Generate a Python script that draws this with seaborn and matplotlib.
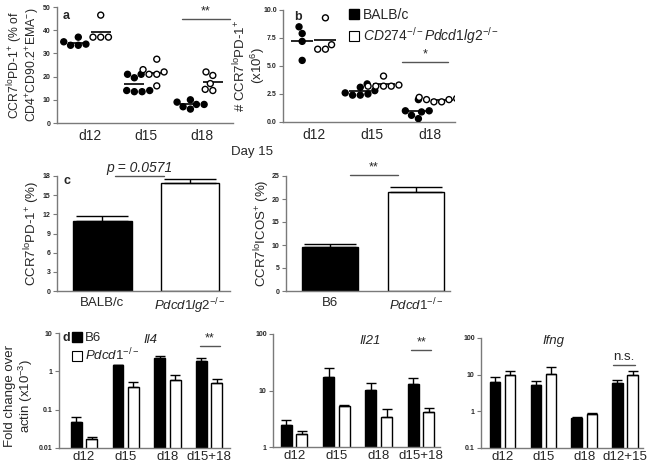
import numpy as np
import pandas as pd
import matplotlib
matplotlib.use("Agg")
import matplotlib.pyplot as plt
import seaborn as sns
from matplotlib.lines import Line2D
from matplotlib.ticker import NullLocator

# ---- panels a / b : individual mice per day ----
days = ["d12", "d15", "d18"]
strains = ["BALB/c", "KO"]
pct_wt = [[37, 35, 34, 33.5, 33.5],
          [21, 21, 19.5, 14, 13.5, 13.5, 14],
          [10, 9, 8, 8, 7, 6]]
pct_ko = [[46.5, 37, 37, 37],
          [27.5, 23, 21, 21, 22, 16],
          [22, 20.5, 17, 14.5, 14]]
num_wt = [[7.9, 8.5, 7.2, 5.5],
          [3.4, 3.1, 2.8, 2.6, 2.4, 2.4, 2.5],
          [2.0, 1.0, 0.9, 1.0, 0.6, 0.3]]
num_ko = [[9.3, 6.9, 6.5, 6.5],
          [4.1, 3.3, 3.2, 3.2, 3.2, 3.2],
          [2.2, 2.1, 2.0, 1.8, 1.8, 2.0]]

# ---- panel c : day 15 bars ----
c_groups = ["BALB/c", r"$\mathit{Pdcd1lg2}^{\mathit{-/-}}$"]
c_mean = [11.0, 16.85]
c_err = [0.8, 0.65]
c2_groups = ["B6", r"$\mathit{Pdcd1}^{\mathit{-/-}}$"]
c2_mean = [9.6, 21.6]
c2_err = [0.65, 1.1]

# ---- panel d : qPCR, fold change over actin ----
genes = ["B6", "Pdcd1"]
il4_days = ["d12", "d15", "d18", "d15+18"]
il4_b6 = [0.048, 1.42, 2.21, 1.9]
il4_b6_err = [0.017, 0.06, 0.34, 0.3]
il4_ko = [0.017, 0.38, 0.59, 0.5]
il4_ko_err = [0.0025, 0.14, 0.21, 0.13]
il21_days = ["d12", "d15", "d18", "d15+18"]
il21_b6 = [2.5, 17.6, 10.2, 13.1]
il21_b6_err = [0.45, 7.3, 3.6, 3.4]
il21_ko = [1.73, 5.3, 3.4, 4.2]
il21_ko_err = [0.17, 0.2, 1.3, 0.8]
ifng_days = ["d12", "d15", "d18", "d12+15"]
ifng_b6 = [6.3, 5.1, 0.66, 5.8]
ifng_b6_err = [2.2, 1.8, 0.04, 1.2]
ifng_ko = [10.0, 10.4, 0.85, 10.0]
ifng_ko_err = [2.8, 5.5, 0.05, 2.3]

sns.set_style("ticks")
plt.rcParams["font.family"] = ["Liberation Sans", "DejaVu Sans"]
plt.rcParams["mathtext.fontset"] = "custom"
plt.rcParams["mathtext.rm"] = "Liberation Sans"
plt.rcParams["mathtext.it"] = "Liberation Sans:italic"
plt.rcParams["mathtext.bf"] = "Liberation Sans:bold"

W, H = 651, 466
GRAY = "#7a7a7a"
LINE = "#555555"


def px_box(l, t, r, b):
    return [l / W, 1 - b / H, (r - l) / W, (b - t) / H]


def ftext(x, y, s, **kw):
    fig.text(x / W, 1 - y / H, s, **kw)


def long_df(wt, ko):
    rows = []
    for day, w, k in zip(days, wt, ko):
        rows += [(day, strains[0], v) for v in w]
        rows += [(day, strains[1], v) for v in k]
    return pd.DataFrame(rows, columns=["day", "strain", "value"])


def style(ax, yticks, ylabels, xfs=10, xpad=4):
    sns.despine(ax=ax)
    for s in ["left", "bottom"]:
        ax.spines[s].set_color(GRAY)
        ax.spines[s].set_linewidth(1)
    ax.set_yticks(yticks, labels=ylabels, fontsize=5, fontweight="bold")
    ax.yaxis.set_minor_locator(NullLocator())
    ax.tick_params(axis="y", length=3, width=0.8, color=GRAY, pad=1.5)
    ax.tick_params(axis="x", length=0, labelsize=xfs, pad=xpad)
    ax.set_xlabel("")


def bracket(ax, x0, x1, y, text, fs=9, style_="normal"):
    ax.plot([x0, x1], [y, y], color=LINE, lw=1, clip_on=False)
    ax.annotate(text, xy=((x0 + x1) / 2, y), xytext=(0, 1),
                textcoords="offset points", ha="center", va="bottom",
                fontsize=fs, style=style_, annotation_clip=False)


def dot_panel(ax, wt, ko, ms_line):
    df = long_df(wt, ko)
    sns.swarmplot(data=df, x="day", y="value", hue="strain", order=days,
                  hue_order=strains, dodge=True, palette=["black", "white"],
                  edgecolor="black", linewidth=1, size=4.3, legend=False,
                  warn_thresh=1, ax=ax)
    sns.pointplot(data=df, x="day", y="value", hue="strain", order=days,
                  hue_order=strains, dodge=0.4, errorbar=None, markers="_",
                  linestyle="none", palette=["black", "black"],
                  markersize=ms_line, markeredgewidth=1.2, legend=False, ax=ax)


def err_on_bars(ax, errs, cap):
    for patch, e in zip(ax.patches, errs):
        x = patch.get_x() + patch.get_width() / 2
        h = patch.get_height()
        ax.errorbar(x, h, yerr=[[0], [e]], fmt="none", ecolor="black",
                    elinewidth=1, capsize=cap, capthick=1, zorder=1)


def qpcr_panel(ax, cats, b6, b6_err, ko, ko_err):
    df = pd.DataFrame({"day": cats * 2,
                       "strain": [genes[0]] * len(cats) + [genes[1]] * len(cats),
                       "value": b6 + ko})
    sns.barplot(data=df, x="day", y="value", hue="strain", order=cats,
                hue_order=genes, palette=["black", "white"], edgecolor="black",
                linewidth=1, width=0.74, gap=0.3, legend=False, ax=ax)
    ax.set_yscale("log")
    err_on_bars(ax, b6_err + ko_err, 3.5)


fig = plt.figure(figsize=(W / 100, H / 100), dpi=100)

# ---------------- a ----------------
ax_a = fig.add_axes(px_box(57, 7, 233, 123))
dot_panel(ax_a, pct_wt, pct_ko, 14)
ax_a.set_ylim(0, 50)
ax_a.set_xlim(-0.58, 2.56)
style(ax_a, [0, 10, 20, 30, 40, 50], ["0", "10", "20", "30", "40", "50"])
ax_a.set_ylabel("CCR7$^{\\mathrm{lo}}$PD-1$^{+}$ (% of\n"
                "CD4$^{+}$CD90.2$^{+}$EMA$^{-}$)", fontsize=8.8, linespacing=0.95)
ax_a.yaxis.set_label_coords((42 - 57) / 176, 0.5)
bracket(ax_a, 1.65, 2.51, 44.7, "**")

# ---------------- b ----------------
ax_b = fig.add_axes(px_box(283, 10, 455, 122))
dot_panel(ax_b, num_wt, num_ko, 16)
ax_b.set_ylim(0, 10)
ax_b.set_xlim(-0.53, 2.43)
style(ax_b, [0, 2.5, 5, 7.5, 10], ["0.0", "2.5", "5.0", "7.5", "10.0"])
ax_b.set_ylabel("# CCR7$^{\\mathrm{lo}}$PD-1$^{+}$\n(x10$^{6}$)",
                fontsize=9.5, linespacing=1.0)
ax_b.yaxis.set_label_coords((267 - 283) / 172, 0.5)
bracket(ax_b, 1.52, 2.31, 5.4, "*")

handles = [Line2D([], [], marker="s", ls="none", mfc="black", mec="black", ms=7.5),
           Line2D([], [], marker="s", ls="none", mfc="white", mec="black", ms=7.5, mew=0.8)]
fig.legend(handles, ["BALB/c", r"$\mathit{CD274}^{\mathit{-/-}}\mathit{Pdcd1lg2}^{\mathit{-/-}}$"],
           loc="upper left", bbox_to_anchor=(349 / W, 1 - 8 / H), frameon=False,
           fontsize=10, handlelength=0.7, handletextpad=0.3, labelspacing=0.2,
           borderpad=0, borderaxespad=0)

# ---------------- c ----------------
ax_c = fig.add_axes(px_box(57, 176, 230, 291))
sns.barplot(x=c_groups, y=c_mean, hue=c_groups, palette=["black", "white"],
            edgecolor="black", linewidth=1, width=0.67, legend=False, ax=ax_c)
err_on_bars(ax_c, c_err, 19)
ax_c.set_ylim(0, 18)
ax_c.set_xlim(-0.52, 1.46)
style(ax_c, [0, 3, 6, 9, 12, 15, 18], ["0", "3", "6", "9", "12", "15", "18"], xfs=9.5)
ax_c.set_ylabel("CCR7$^{\\mathrm{lo}}$PD-1$^{+}$ (%)", fontsize=9.5)
ax_c.yaxis.set_label_coords((42 - 57) / 173, 0.5)
bracket(ax_c, 0.14, 0.71, 18.0, "p = 0.0571", fs=10, style_="italic")

ax_c2 = fig.add_axes(px_box(286, 176, 450, 291))
sns.barplot(x=c2_groups, y=c2_mean, hue=c2_groups, palette=["black", "white"],
            edgecolor="black", linewidth=1, width=0.65, legend=False, ax=ax_c2)
err_on_bars(ax_c2, c2_err, 19)
ax_c2.set_ylim(0, 25)
ax_c2.set_xlim(-0.51, 1.40)
style(ax_c2, [0, 5, 10, 15, 20, 25], ["0", "5", "10", "15", "20", "25"], xfs=9.5)
ax_c2.set_ylabel("CCR7$^{\\mathrm{lo}}$ICOS$^{+}$ (%)", fontsize=9.5)
ax_c2.yaxis.set_label_coords((272 - 286) / 164, 0.5)
bracket(ax_c2, 0.24, 0.79, 25.2, "**")

ftext(252, 152, "Day 15", fontsize=9.5, ha="center", va="center")

# ---------------- d ----------------
ax_il4 = fig.add_axes(px_box(59, 333, 230, 448))
qpcr_panel(ax_il4, il4_days, il4_b6, il4_b6_err, il4_ko, il4_ko_err)
ax_il4.set_ylim(0.01, 10)
ax_il4.set_xlim(-0.6, 3.5)
style(ax_il4, [0.01, 0.1, 1, 10], ["0.01", "0.1", "1", "10"], xfs=9.5, xpad=2)
ax_il4.set_ylabel("Fold change over\nactin (x10$^{-3}$)", fontsize=9.5, linespacing=1.05)
ax_il4.yaxis.set_label_coords((35 - 59) / 171, 0.45)
ax_il4.text(0.535, 0.94, "Il4", transform=ax_il4.transAxes, style="italic",
            fontsize=9.5, ha="center", va="center")
bracket(ax_il4, 2.78, 3.26, 4.6, "**")
handles_d = [Line2D([], [], marker="s", ls="none", mfc="black", mec="black", ms=7.5),
             Line2D([], [], marker="s", ls="none", mfc="white", mec="black", ms=7.5, mew=0.8)]
ax_il4.legend(handles_d, ["B6", r"$\mathit{Pdcd1}^{\mathit{-/-}}$"], loc="upper left",
              bbox_to_anchor=(72 / W, 1 - 332 / H), bbox_transform=fig.transFigure,
              frameon=False, fontsize=9.5, handlelength=0.7, handletextpad=0.3,
              labelspacing=0.2, borderpad=0, borderaxespad=0)

ax_il21 = fig.add_axes(px_box(273, 334, 440, 447))
qpcr_panel(ax_il21, il21_days, il21_b6, il21_b6_err, il21_ko, il21_ko_err)
ax_il21.set_ylim(1, 100)
ax_il21.set_xlim(-0.5, 3.45)
style(ax_il21, [1, 10, 100], ["1", "10", "100"], xfs=9.5, xpad=2)
ax_il21.set_ylabel("")
ax_il21.text(0.58, 0.94, "Il21", transform=ax_il21.transAxes, style="italic",
             fontsize=9.5, ha="center", va="center")
bracket(ax_il21, 2.77, 3.24, 52, "**")

ax_ifng = fig.add_axes(px_box(481, 338, 643, 448))
qpcr_panel(ax_ifng, ifng_days, ifng_b6, ifng_b6_err, ifng_ko, ifng_ko_err)
ax_ifng.set_ylim(0.1, 100)
ax_ifng.set_xlim(-0.53, 3.44)
style(ax_ifng, [0.1, 1, 10, 100], ["0.1", "1", "10", "100"], xfs=9.5, xpad=2)
ax_ifng.set_ylabel("")
ax_ifng.text(0.45, 0.97, "Ifng", transform=ax_ifng.transAxes, style="italic",
             fontsize=9.5, ha="center", va="center")
bracket(ax_ifng, 2.71, 3.25, 18.7, "n.s.", fs=9.5)

# panel letters
for x, y, s in [(66, 16, "a"), (298, 17, "b"), (67, 181, "c"), (66, 338, "d")]:
    ftext(x, y, s, fontsize=9, fontweight="bold", ha="center", va="center")

fig.savefig("out.png", dpi=100)
